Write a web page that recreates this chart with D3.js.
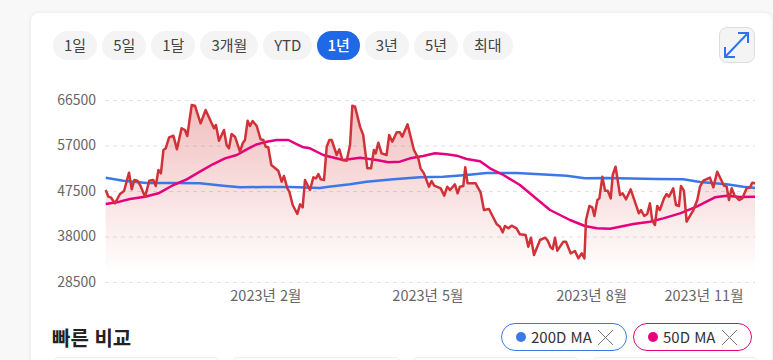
<!DOCTYPE html>
<html lang="ko">
<head>
<meta charset="utf-8">
<script src="https://cdn.jsdelivr.net/npm/d3@7"></script>
<style>
    html, body { margin: 0; width: 773px; height: 360px; overflow: hidden; background: #f8f8f8; font-family: "Noto Sans CJK KR", "Noto Sans", sans-serif; }
    #card { position: absolute; left: 31px; top: 13px; width: 741px; height: 400px; background: #fff; border-radius: 8px; box-shadow: 0 0 4px rgba(0,0,0,0.08); }
    #ranges { position: absolute; left: 53px; top: 31px; display: flex; gap: 5px; }
    #ranges div { height: 29px; line-height: 28px; padding: 0 11px; border-radius: 15px; background: #f4f4f4; color: #444; font-size: 15px; }
    #ranges div.on { background: #1f69e6; color: #fff; font-weight: 500; padding: 0 10px; }
    #expand { position: absolute; left: 719px; top: 27px; width: 34px; height: 34px; border: 1px solid #ddd; border-radius: 8px; background: #f4f4f4; }
    #chart { position: absolute; left: 0; top: 0; }
    #title { position: absolute; left: 52px; top: 323px; font-size: 20px; line-height: 29px; font-weight: 700; color: #222; }
    .chip { position: absolute; top: 323px; height: 26px; line-height: 26px; border-radius: 14px; border: 1.5px solid; background: #fff; font-size: 15px; color: #333; white-space: nowrap; box-sizing: content-box; }
    .chip i { position: absolute; left: 14px; top: 8px; width: 10px; height: 10px; border-radius: 5px; }
    .chip span { position: absolute; left: 29px; top: 0; }
    .chip svg { position: absolute; top: 6px; }
    .box { position: absolute; top: 357px; height: 20px; border: 1px solid #eee; border-radius: 6px; }
</style>
</head>
<body>
<div id="card"></div>
<svg id="chart" width="773" height="360"></svg>
<div id="ranges"></div>
<div id="expand"></div>
<div id="title">빠른 비교</div>
<script>
// Range buttons and axis labels
const rangeLabels = ["1일", "5일", "1달", "3개월", "YTD", "1년", "3년", "5년", "최대"];
const activeRange = "1년";
const yTicks = [28500, 38000, 47500, 57000, 66500];
const xTickDays = [90, 181, 273, 365];
const xTickLabels = ["2023년 2월", "2023년 5월", "2023년 8월", "2023년 11월"];

// Price, days counted from the left edge of the chart
const priceDays = [0.4,1.9,3.2,5.6,8.4,10.7,13.5,15.0,16.5,18.2,19.7,22.5,24.9,27.1,28.5,30.0,31.4,32.8,34.1,36.0,38.4,40.4,43.0,44.9,46.2,48.7,50.5,53.7,56.5,59.9,61.2,62.3,64.0,66.8,68.3,69.6,71.1,73.0,75.8,77.3,78.6,80.1,81.4,82.9,85.2,87.4,88.9,90.2,91.7,93.4,97.3,99.2,100.5,102.4,103.5,105.4,108.0,109.5,111.0,112.3,115.1,117.0,118.5,119.8,121.1,123.0,124.5,126.0,127.3,130.1,131.6,133.3,135.7,137.6,138.9,140.4,143.2,145.0,147.3,149.4,151.0,152.0,153.5,155.3,158.1,159.6,161.3,163.8,165.6,166.9,169.9,173.5,175.9,177.2,179.1,181.9,183.4,184.9,188.5,190.5,192.2,193.7,196.5,198.0,199.3,201.2,202.3,203.6,208.1,210.9,212.8,215.6,219.9,221.8,223.3,224.6,226.5,228.3,231.1,233.0,236.2,237.7,239.2,240.9,244.3,247.1,248.4,250.2,251.4,252.7,254.0,257.4,258.9,261.5,263.9,265.8,267.7,269.2,270.1,272.0,273.6,274.8,276.5,277.6,279.3,280.8,282.3,284.0,285.1,286.7,289.2,290.7,292.6,295.2,299.8,301.0,302.8,304.5,306.0,307.3,308.8,310.1,311.6,313.9,315.4,316.7,319.1,320.6,322.3,323.4,325.1,326.6,330.4,332.6,334.1,336.0,339.7,341.6,343.8,347.6,349.1,350.4,351.9,353.4,356.0,357.9,360.3,362.2,363.5,365.0];
const priceValues = [47708,46316,46177,44924,46873,47499,51327,47847,49796,49657,48752,46316,49657,49796,48543,51884,51188,56060,56408,58705,59053,56199,60584,60236,58983,65456,65317,61628,64412,61628,60584,61280,58009,60236,57104,56408,59401,58844,55712,57452,58148,62185,61071,62115,61071,58287,58148,56756,56617,52928,51745,49448,50631,48056,47360,44576,42697,44715,44089,49796,47708,50353,50144,51049,49935,49796,56756,58148,58148,55016,56199,53972,53833,57104,65317,65108,60932,59192,52232,52232,56060,55364,57591,55364,55016,59192,57800,59749,59749,58844,61419,56060,54320,52232,51188,48404,49587,48613,48056,46525,48404,47708,48891,47012,48404,48543,52441,49100,49100,47221,43532,43741,40609,40052,38869,40191,39704,40261,39704,38451,38312,35876,37755,34136,37268,37755,37268,35737,35389,37755,35041,36920,36920,34484,34971,33440,34484,33440,41444,44367,44089,42279,45620,45968,50492,47569,47569,45968,50840,52580,46664,47012,45759,47847,42836,43532,42279,42697,44924,41305,40400,44367,43532,45968,46873,46316,48056,44576,44367,48543,47569,41096,43532,45620,48404,49657,50283,48265,51536,48613,48404,45620,48056,46664,45620,45968,48056,48265,49239,49100];

// 50 day moving average
const ma50Days = [0.4,6.6,14.0,22.5,30.0,38.4,45.9,53.3,60.8,67.4,74.0,79.6,85.2,90.8,96.4,103.0,106.7,111.4,115.1,122.6,126.3,133.8,143.2,152.5,159.1,165.6,171.3,178.7,185.3,191.8,197.5,203.1,210.6,216.2,223.7,233.0,244.3,249.9,261.1,269.5,276.1,283.6,289.2,296.7,306.0,313.5,322.9,332.2,342.5,349.1,356.6,365.0];
const ma50Values = [44785,45133,45829,46316,47012,48752,49935,51536,53137,54320,55016,56199,57243,57800,58148,58148,57452,56617,56408,55016,54668,53972,54459,53972,53485,53624,54320,54807,55364,55155,54877,54181,53694,52232,50840,48752,45272,43532,41444,40191,39704,39634,40052,40609,41096,41792,42836,44228,46177,46525,46247,46316];

// 200 day moving average
const ma200Days = [0.4,10.3,23.4,38.4,53.3,66.4,75.8,88.9,103.9,120.7,124.5,137.6,146.9,161.9,176.9,190.0,203.1,214.3,231.1,244.3,259.2,269.5,281.7,309.8,324.7,334.1,349.1,358.4,365.0];
const ma200Values = [50283,49657,49170,49170,49100,48613,48265,48334,48334,48126,48334,48891,49448,49935,50353,50492,50840,51258,51258,50979,50701,50144,50214,50005,49935,49378,48891,48404,48126];

const chips = [
    {label: "200D MA", color: "#3b78e7", left: 501, width: 124, closeX: 96},
    {label: "50D MA", color: "#e6007e", left: 633, width: 117, closeX: 88}
];
const boxes = [[53, 165], [232, 167], [412, 165], [592, 165]];

const chartFont = '"Noto Sans CJK KR", "Noto Sans", sans-serif';

// Buttons
d3.select("#ranges").selectAll("div")
    .data(rangeLabels)
    .enter()
    .append("div")
        .attr("class", d => d === activeRange ? "on" : null)
        .text(d => d);

// Expand icon
d3.select("#expand").append("svg")
    .attr("width", 34).attr("height", 34)
    .append("path")
        .attr("d", "M5 29 L28 5 M18 5 L28 5 L28 15 M5 19 L5 29 L15 29")
        .attr("fill", "none")
        .attr("stroke", "#2f74ed")
        .attr("stroke-width", 2);

// Chart
const svg = d3.select("#chart");
const plot = {left: 105, right: 755, top: 100, bottom: 282};

const xScale = d3.scaleLinear().domain([0, 365]).range([plot.left, plot.right]);
const yScale = d3.scaleLinear().domain([28500, 66500]).range([plot.bottom, plot.top]);

// Y axis with dashed grid lines
const yAxis = svg.append("g")
    .attr("transform", "translate(" + plot.left + ",0)")
    .call(d3.axisLeft(yScale).tickValues(yTicks).tickFormat(d3.format("d")).tickSize(-(plot.right - plot.left)).tickPadding(9));
yAxis.select(".domain").remove();
yAxis.selectAll("line").attr("stroke", "#e2e2e2").attr("stroke-dasharray", "4 4");
yAxis.selectAll("text").style("font-size", "14px").style("font-family", chartFont).attr("fill", "#666");

// X axis, labels only
const xAxis = svg.append("g")
    .attr("transform", "translate(0," + plot.bottom + ")")
    .call(d3.axisBottom(xScale).tickValues(xTickDays).tickFormat((d, i) => xTickLabels[i]).tickSize(0).tickPadding(9));
xAxis.select(".domain").remove();
xAxis.selectAll("text").style("font-size", "14.5px").style("font-family", chartFont).attr("fill", "#666");
// last label has to stay inside the plot
xAxis.selectAll("text").filter((d, i) => i === xTickDays.length - 1)
    .style("text-anchor", "end").attr("dx", -12);

// Area fill under the price line
const grad = svg.append("defs").append("linearGradient")
    .attr("id", "fade").attr("gradientUnits", "userSpaceOnUse")
    .attr("x1", 0).attr("x2", 0).attr("y1", yScale(66500)).attr("y2", yScale(30500));
grad.append("stop").attr("offset", 0).attr("stop-color", "#d32f2f").attr("stop-opacity", 0.32);
grad.append("stop").attr("offset", 1).attr("stop-color", "#d32f2f").attr("stop-opacity", 0);

const price = priceDays.map((d, i) => [d, priceValues[i]]);

svg.append("path")
    .datum(price)
    .attr("fill", "url(#fade)")
    .attr("d", d3.area().x(d => xScale(d[0])).y0(yScale(30500)).y1(d => yScale(d[1])));

const line = d3.line().x(d => xScale(d[0])).y(d => yScale(d[1]));
const drawLine = (days, values, color, width) => svg.append("path")
    .datum(days.map((d, i) => [d, values[i]]))
    .attr("fill", "none")
    .attr("stroke", color)
    .attr("stroke-width", width)
    .attr("stroke-linejoin", "round")
    .attr("d", line);

drawLine(ma200Days, ma200Values, "#3b78e7", 2.5);
drawLine(ma50Days, ma50Values, "#e6007e", 2.5);
drawLine(priceDays, priceValues, "#d13239", 2.5);

// Comparison chips
chips.forEach(c => {
    const chip = d3.select("body").append("div")
        .attr("class", "chip")
        .style("left", c.left + "px")
        .style("width", c.width + "px")
        .style("border-color", c.color);
    chip.append("i").style("background", c.color);
    chip.append("span").text(c.label);
    chip.append("svg")
        .attr("width", 15).attr("height", 15)
        .style("left", c.closeX + "px")
        .append("path")
            .attr("d", "M0 0 L15 15 M15 0 L0 15")
            .attr("stroke", "#777")
            .attr("stroke-width", 1);
});

// Tops of the cards cut off by the window
boxes.forEach(b => {
    d3.select("body").append("div")
        .attr("class", "box")
        .style("left", b[0] + "px")
        .style("width", b[1] + "px");
});
</script>
</body>
</html>
